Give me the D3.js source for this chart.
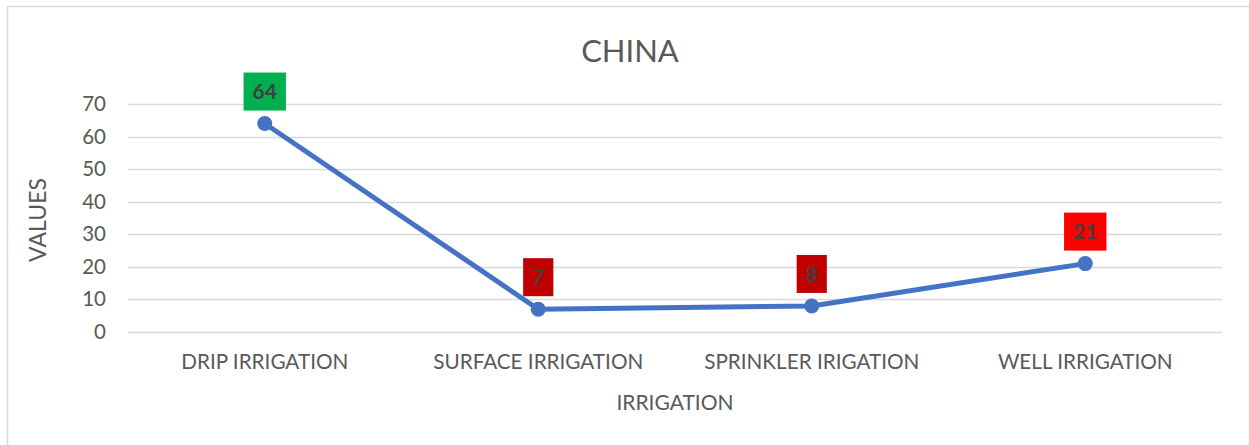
<!DOCTYPE html>
<html>
<head>
<meta charset="utf-8">
<script src="https://cdn.jsdelivr.net/npm/d3@7"></script>
<style>
  html, body { margin: 0; padding: 0; background: #fff; }
  svg { display: block; font-family: "Lato", "Open Sans", sans-serif; }
</style>
</head>
<body>
<svg id="chart" width="1249" height="445"></svg>
<script>
const categories = ["DRIP IRRIGATION", "SURFACE IRRIGATION", "SPRINKLER IRIGATION", "WELL IRRIGATION"];
const values = [64, 7, 8, 21];
const labelColors = ["#00b050", "#c00000", "#c00000", "#ff0000"];
const yTicks = [0, 10, 20, 30, 40, 50, 60, 70];

const svg = d3.select("#chart");
const W = 1249, H = 445;

// chart frame
svg.append("rect")
  .attr("x", 7.5).attr("y", 6.5)
  .attr("width", W - 7).attr("height", H)
  .attr("fill", "#fff").attr("stroke", "#d9d9d9").attr("stroke-width", 1.5);

const plot = { left: 128, right: 1222, top: 104, bottom: 332 };

const x = d3.scaleBand().domain(categories).range([plot.left, plot.right]);
const y = d3.scaleLinear().domain([0, 70]).range([plot.bottom, plot.top]);

// gridlines
svg.append("g")
  .selectAll("line")
  .data(yTicks)
  .join("line")
  .attr("x1", plot.left).attr("x2", plot.right)
  .attr("y1", d => Math.round(y(d)) + 0.5).attr("y2", d => Math.round(y(d)) + 0.5)
  .attr("stroke", "#d9d9d9").attr("stroke-width", 1.3);

// y axis labels
const yAxis = d3.axisLeft(y).tickValues(yTicks).tickSize(0).tickPadding(0);
svg.append("g")
  .attr("transform", `translate(${plot.left - 22},0)`)
  .call(yAxis)
  .call(g => g.select(".domain").remove())
  .call(g => g.selectAll("text")
    .attr("fill", "#595959").attr("font-size", 20.5)
    .attr("font-family", "Lato, 'Open Sans', sans-serif"));

// x axis labels
const xAxis = d3.axisBottom(x).tickSize(0).tickPadding(0);
svg.append("g")
  .attr("transform", `translate(0,${plot.bottom + 22})`)
  .call(xAxis)
  .call(g => g.select(".domain").remove())
  .call(g => g.selectAll("text")
    .attr("fill", "#595959").attr("font-size", 20.7)
    .attr("font-family", "Lato, 'Open Sans', sans-serif"));

// title
svg.append("text")
  .attr("x", 630).attr("y", 62)
  .attr("text-anchor", "middle")
  .attr("fill", "#595959").attr("font-size", 31)
  .text("CHINA");

// axis titles
svg.append("text")
  .attr("transform", `translate(46,${(plot.top + plot.bottom) / 2 + 2}) rotate(-90)`)
  .attr("text-anchor", "middle")
  .attr("fill", "#595959").attr("font-size", 23)
  .text("VALUES");

svg.append("text")
  .attr("x", (plot.left + plot.right) / 2).attr("y", 410)
  .attr("text-anchor", "middle")
  .attr("fill", "#595959").attr("font-size", 21)
  .text("IRRIGATION");

const cx = d => x(d) + x.bandwidth() / 2;

// series line
const line = d3.line()
  .x((d, i) => cx(categories[i]))
  .y(d => y(d));

svg.append("path")
  .datum(values)
  .attr("d", line)
  .attr("fill", "none")
  .attr("stroke", "#4472c4").attr("stroke-width", 5)
  .attr("stroke-linejoin", "round");

svg.append("g")
  .selectAll("circle")
  .data(values)
  .join("circle")
  .attr("cx", (d, i) => cx(categories[i]))
  .attr("cy", d => y(d))
  .attr("r", 7.5)
  .attr("fill", "#4472c4");

// data labels: filled boxes sized to their text, sitting above each point
const boxH = 38;
const lab = svg.append("g")
  .selectAll("g")
  .data(values)
  .join("g")
  .attr("transform", (d, i) => `translate(${cx(categories[i])},${y(d) - 13 - boxH / 2})`);

const rects = lab.append("rect")
  .attr("fill", (d, i) => labelColors[i]);

const texts = lab.append("text")
  .attr("text-anchor", "middle")
  .attr("dy", "0.36em")
  .attr("fill", "#404040").attr("font-size", 21).attr("font-weight", "bold")
  .text(d => d);

texts.each(function(d, i) {
  const w = this.getComputedTextLength() + 18;
  d3.select(rects.nodes()[i])
    .attr("x", -w / 2).attr("y", -boxH / 2)
    .attr("width", w).attr("height", boxH);
});
</script>
</body>
</html>
